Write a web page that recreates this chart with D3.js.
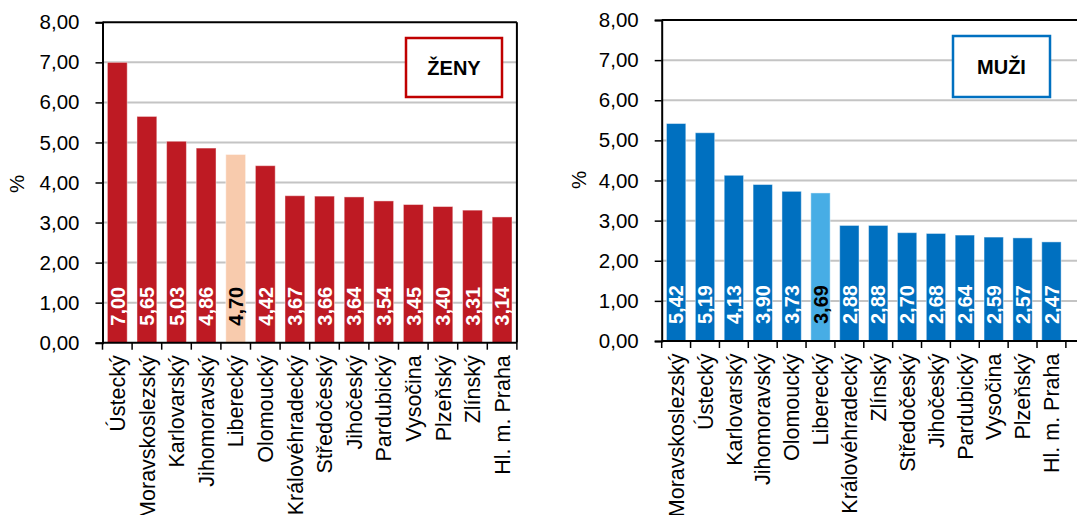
<!DOCTYPE html>
<html>
<head>
<meta charset="utf-8">
<script src="https://cdn.jsdelivr.net/npm/d3@7"></script>
<style>
  html, body { margin: 0; padding: 0; background: #fff; }
  svg { display: block; font-family: 'Liberation Sans', Arial, sans-serif; }
</style>
</head>
<body>
<svg id="chart" width="1077" height="515"></svg>
<script>
// ── Data ──
const CATS_F = ['Ústecký', 'Moravskoslezský', 'Karlovarský', 'Jihomoravský', 'Liberecký', 'Olomoucký',
    'Královéhradecký', 'Středočeský', 'Jihočeský', 'Pardubický', 'Vysočina', 'Plzeňský', 'Zlínský', 'Hl. m. Praha'];
const VALS_F = [7.00, 5.65, 5.03, 4.86, 4.70, 4.42, 3.67, 3.66, 3.64, 3.54, 3.45, 3.40, 3.31, 3.14];

const CATS_M = ['Moravskoslezský', 'Ústecký', 'Karlovarský', 'Jihomoravský', 'Olomoucký', 'Liberecký',
    'Královéhradecký', 'Zlínský', 'Středočeský', 'Jihočeský', 'Pardubický', 'Vysočina', 'Plzeňský', 'Hl. m. Praha'];
const VALS_M = [5.42, 5.19, 4.13, 3.90, 3.73, 3.69, 2.88, 2.88, 2.70, 2.68, 2.64, 2.59, 2.57, 2.47];

const Y_TICKS = [0, 1, 2, 3, 4, 5, 6, 7, 8];
const HIGHLIGHT = 'Liberecký';

const fmt = v => d3.format('.2f')(v).replace('.', ',');
const svg = d3.select('#chart');

// ── One panel ──
function drawPanel(o) {
    const g = svg.append('g');
    const x = d3.scaleBand().domain(o.cats).range([o.left, o.left + o.band * o.cats.length]).paddingInner(0.33).paddingOuter(0.165);
    const y = d3.scaleLinear().domain([0, 8]).range([o.bottom, o.top]);
    const frameRight = o.frameRight;

    // gridlines
    g.append('g').selectAll('line').data(Y_TICKS.filter(t => t > 0 && t < 8)).join('line')
        .attr('x1', o.left).attr('x2', frameRight)
        .attr('y1', d => y(d)).attr('y2', d => y(d))
        .attr('stroke', '#c4c4c4').attr('stroke-width', 2);

    // bars
    const data = o.cats.map((c, i) => ({ cat: c, val: o.vals[i] }));
    g.append('g').selectAll('rect').data(data).join('rect')
        .attr('x', d => x(d.cat))
        .attr('width', x.bandwidth())
        .attr('y', d => y(d.val))
        .attr('height', d => y(0) - y(d.val))
        .attr('fill', d => d.cat === HIGHLIGHT ? o.hiColor : o.color)
        .attr('stroke', 'rgba(255,255,255,0.45)')
        .attr('stroke-width', 1);

    // value labels
    g.append('g').selectAll('text').data(data).join('text')
        .attr('transform', d => `translate(${x(d.cat) + x.bandwidth() / 2},${y(0) - 17}) rotate(-90)`)
        .attr('dy', '0.36em')
        .attr('font-size', '20px')
        .attr('font-weight', 'bold')
        .attr('fill', d => d.cat === HIGHLIGHT ? '#000' : '#fff')
        .text(d => fmt(d.val));

    // frame (top / right)
    g.append('line').attr('x1', o.left).attr('x2', frameRight).attr('y1', o.top).attr('y2', o.top)
        .attr('stroke', '#000').attr('stroke-width', 2);
    if (o.showRight) {
        g.append('line').attr('x1', frameRight).attr('x2', frameRight).attr('y1', o.top).attr('y2', o.bottom)
            .attr('stroke', '#000').attr('stroke-width', 2);
    }

    // y axis
    const yAxis = d3.axisLeft(y).tickValues(Y_TICKS).tickFormat(fmt).tickSize(7).tickPadding(16);
    const ya = g.append('g').attr('transform', `translate(${o.left},0)`).call(yAxis);
    ya.select('.domain').attr('stroke', '#000').attr('stroke-width', 2);
    ya.selectAll('.tick line').attr('stroke', '#000').attr('stroke-width', 1.5);
    ya.selectAll('text').attr('font-size', '20.5px').attr('fill', '#000').attr('font-family', "'Liberation Sans', Arial, sans-serif");

    // x axis line + boundary ticks
    g.append('line').attr('x1', o.left).attr('x2', frameRight).attr('y1', o.bottom).attr('y2', o.bottom)
        .attr('stroke', '#000').attr('stroke-width', 2);
    const bounds = d3.range(o.cats.length + 1).map(i => o.left + i * o.band);
    g.append('g').selectAll('line').data(bounds).join('line')
        .attr('x1', d => d).attr('x2', d => d)
        .attr('y1', o.bottom).attr('y2', o.bottom + 7)
        .attr('stroke', '#000').attr('stroke-width', 1.5);

    // category labels
    g.append('g').selectAll('text').data(o.cats).join('text')
        .attr('transform', d => `translate(${x(d) + x.bandwidth() / 2},${o.bottom + 12.5}) rotate(-90)`)
        .attr('text-anchor', 'end')
        .attr('dy', '0.36em')
        .attr('font-size', '21.5px')
        .attr('fill', '#000')
        .text(d => d);

    // y title
    g.append('text')
        .attr('transform', `translate(${o.titleX},${o.titleY}) rotate(-90)`)
        .attr('text-anchor', 'middle')
        .attr('dy', '0.36em')
        .attr('font-size', '20.5px')
        .text('%');

    // legend box
    g.append('rect')
        .attr('x', o.box[0]).attr('y', o.box[1]).attr('width', o.box[2]).attr('height', o.box[3])
        .attr('fill', '#fff').attr('stroke', o.boxColor).attr('stroke-width', 2.5);
    g.append('text')
        .attr('x', o.box[0] + o.box[2] / 2).attr('y', o.box[1] + o.box[3] / 2)
        .attr('text-anchor', 'middle').attr('dy', '0.36em')
        .attr('font-size', '20px').attr('font-weight', 'bold')
        .text(o.label);
}

drawPanel({
    cats: CATS_F, vals: VALS_F,
    left: 102.5, band: 29.6, top: 22.3, bottom: 342.7,
    frameRight: 102.5 + 29.6 * 14, showRight: true,
    color: '#be1a23', hiColor: '#f8cbad',
    titleX: 17, titleY: 184,
    box: [406, 38, 96, 59], boxColor: '#c00000', label: 'ŽENY'
});

drawPanel({
    cats: CATS_M, vals: VALS_M,
    left: 661.7, band: 28.87, top: 20, bottom: 341,
    frameRight: 1085, showRight: false,
    color: '#0070c0', hiColor: '#47ade5',
    titleX: 579, titleY: 180,
    box: [953, 36, 97, 61], boxColor: '#0070c0', label: 'MUŽI'
});
</script>
</body>
</html>
